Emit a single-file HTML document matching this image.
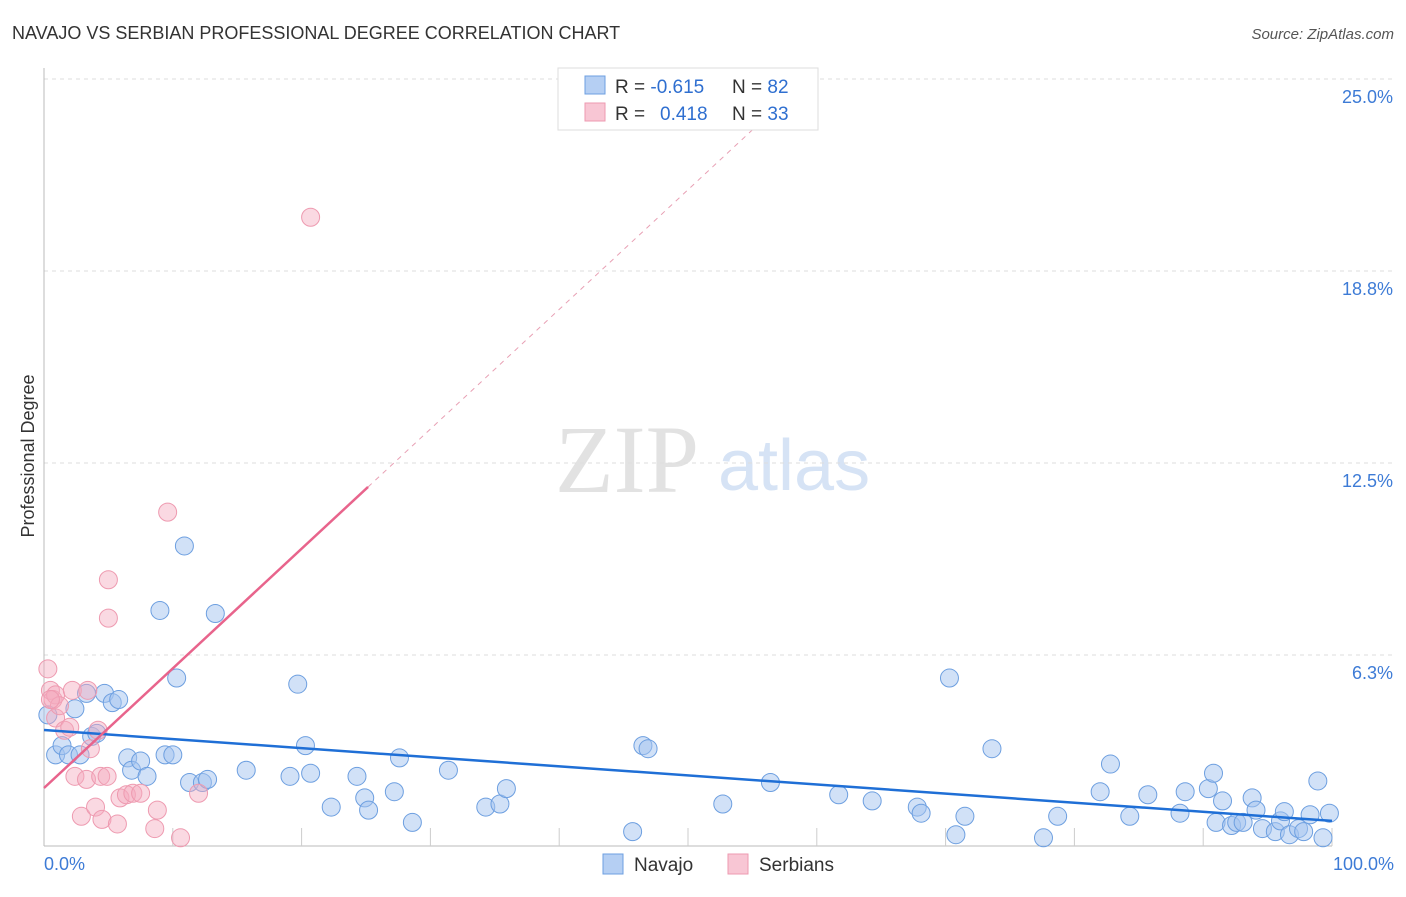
<!DOCTYPE html>
<html><head><meta charset="utf-8"><style>
body{margin:0;background:#fff;font-family:"Liberation Sans",sans-serif}
</style></head><body>
<svg width="1406" height="892" xmlns="http://www.w3.org/2000/svg" id="chart" style="font-family:'Liberation Sans',sans-serif">
<text x="12" y="39" font-size="18" fill="#333">NAVAJO VS SERBIAN PROFESSIONAL DEGREE CORRELATION CHART</text>
<text x="1394" y="39" font-size="15" fill="#555" font-style="italic" text-anchor="end">Source: ZipAtlas.com</text>
<text x="34" y="456" font-size="18" fill="#333" transform="rotate(-90 34 456)" text-anchor="middle">Professional Degree</text>
<text x="555" y="492" font-size="96" fill="#e2e2e2" font-family="Liberation Serif,serif">ZIP</text>
<text x="718" y="490" font-size="72" fill="#d6e3f5">atlas</text>
<g id="grid"></g><g id="marks"></g>
<g>
<rect x="558" y="68" width="260" height="62" fill="#fff" stroke="#ddd"/>
<rect x="585" y="76" width="20" height="18" fill="#b5cff3" stroke="#6d9fe0"/>
<rect x="585" y="103" width="20" height="18" fill="#f8c6d4" stroke="#ee9ab0"/>
<text x="615" y="93" font-size="19" fill="#333">R = <tspan fill="#2f6fd0">-0.615</tspan><tspan x="732">N = </tspan><tspan fill="#2f6fd0">82</tspan></text>
<text x="615" y="120" font-size="19" fill="#333">R = <tspan x="660" fill="#2f6fd0">0.418</tspan><tspan x="732">N = </tspan><tspan fill="#2f6fd0">33</tspan></text>
</g>
<g>
<rect x="603" y="854" width="20" height="20" fill="#b5cff3" stroke="#6d9fe0"/>
<text x="634" y="871" font-size="19" fill="#333">Navajo</text>
<rect x="728" y="854" width="20" height="20" fill="#f8c6d4" stroke="#ee9ab0"/>
<text x="759" y="871" font-size="19" fill="#333">Serbians</text>
</g>
</svg>
<script>
const navX=[0.9,1.4,1.9,2.4,2.8,3.3,3.7,4.1,4.7,5.3,5.8,6.5,6.8,7.5,8.0,9.0,9.4,10.0,10.3,10.9,11.3,12.3,12.7,13.3,15.7,19.1,19.7,20.3,20.7,22.3,24.3,24.9,25.2,27.2,27.6,28.6,31.4,34.3,35.4,35.9,45.7,46.5,46.9,52.7,56.4,61.7,64.3,67.8,68.1,70.3,70.8,71.5,73.6,77.6,78.7,82.0,82.8,84.3,85.7,88.2,88.6,90.4,90.8,91.0,91.5,92.2,92.6,93.1,93.8,94.1,94.6,95.6,96.0,96.3,96.7,97.4,97.8,98.3,98.9,99.3,99.8,0.3];
const navY=[3.0,3.3,3.0,4.5,3.0,5.0,3.6,3.7,5.0,4.7,4.8,2.9,2.5,2.8,2.3,7.7,3.0,3.0,5.5,9.8,2.1,2.1,2.2,7.6,2.5,2.3,5.3,3.3,2.4,1.3,2.3,1.6,1.2,1.8,2.9,0.8,2.5,1.3,1.4,1.9,0.5,3.3,3.2,1.4,2.1,1.7,1.5,1.3,1.1,5.5,0.4,1.0,3.2,0.3,1.0,1.8,2.7,1.0,1.7,1.1,1.8,1.9,2.4,0.8,1.5,0.7,0.8,0.8,1.6,1.2,0.6,0.5,0.85,1.15,0.4,0.6,0.5,1.05,2.15,0.3,1.1,4.3];
const serX=[0.3,0.5,0.7,0.9,0.9,1.2,1.6,2.0,2.2,2.4,2.9,3.3,3.4,3.6,4.0,4.2,4.4,4.5,4.9,5.0,5.0,5.7,5.9,6.4,6.9,7.5,8.6,8.8,9.6,10.6,12.0,20.7,0.5];
const serY=[5.8,5.1,4.8,4.95,4.2,4.6,3.8,3.9,5.1,2.3,1.0,2.2,5.1,3.2,1.3,3.8,2.3,0.9,2.3,8.7,7.45,0.75,1.6,1.7,1.75,1.75,0.6,1.2,10.9,0.3,1.75,20.5,4.8];
const yTicks=[25.0,18.8,12.5,6.3];
const navLine=[3.81,0.85];
const serLine=[1.92,11.72];
const NS='http://www.w3.org/2000/svg';
const X=v=>44+v*12.88, Y=v=>847-v*30.72;
function mk(t,a,p){const e=document.createElementNS(NS,t);for(const k in a)e.setAttribute(k,a[k]);p.appendChild(e);return e;}
const g=document.getElementById('grid'),m=document.getElementById('marks');
yTicks.forEach((t,i)=>{const yv=[25,18.75,12.5,6.25][i];
 const l=mk('line',{x1:44,x2:1395,y1:Y(yv),y2:Y(yv),stroke:'#ddd','stroke-dasharray':'4,4'},g);
 
 
 const tx=mk('text',{x:1393,y:Y(yv)+24,'font-size':18,fill:'#3d7bd6','text-anchor':'end'},g);tx.textContent=t.toFixed(1)+'%';
 
 
});
mk('line',{x1:44,x2:44,y1:68,y2:846,stroke:'#bbb'},g);
mk('line',{x1:44,x2:1332,y1:846,y2:846,stroke:'#bbb'},g);
for(let i=1;i<=10;i++){mk('line',{x1:X(i*10),x2:X(i*10),y1:828,y2:846,stroke:'#ccc'},g);}
let t0=mk('text',{x:44,y:870,'font-size':18,fill:'#3d7bd6'},g);t0.textContent='0.0%';


let t1=mk('text',{x:1394,y:870,'font-size':18,fill:'#3d7bd6','text-anchor':'end'},g);t1.textContent='100.0%';


navX.forEach((x,i)=>{const c=mk('circle',{cx:X(x),cy:Y(navY[i]),r:9,fill:'rgba(163,196,240,0.5)',stroke:'#6d9fe0','stroke-width':1},m);
 
 });
serX.forEach((x,i)=>{const c=mk('circle',{cx:X(x),cy:Y(serY[i]),r:9,fill:'rgba(245,170,190,0.45)',stroke:'#ee9ab0','stroke-width':1},m);
 
 });
const nl=mk('line',{x1:X(0),y1:Y(navLine[0]),x2:X(100),y2:Y(navLine[1]),stroke:'#1f6fd6','stroke-width':2.5},m);


const s=(serLine[1]-serLine[0])/25.16;
const sl=mk('line',{x1:X(0),y1:Y(serLine[0]),x2:X(25.16),y2:Y(serLine[1]),stroke:'#e8648c','stroke-width':2.5},m);


const sd=mk('line',{x1:X(25.16),y1:Y(serLine[1]),x2:X(55),y2:Y(serLine[0]+s*55),stroke:'#e8a0b4','stroke-width':1,'stroke-dasharray':'5,5'},m);


</script>
</body></html>
